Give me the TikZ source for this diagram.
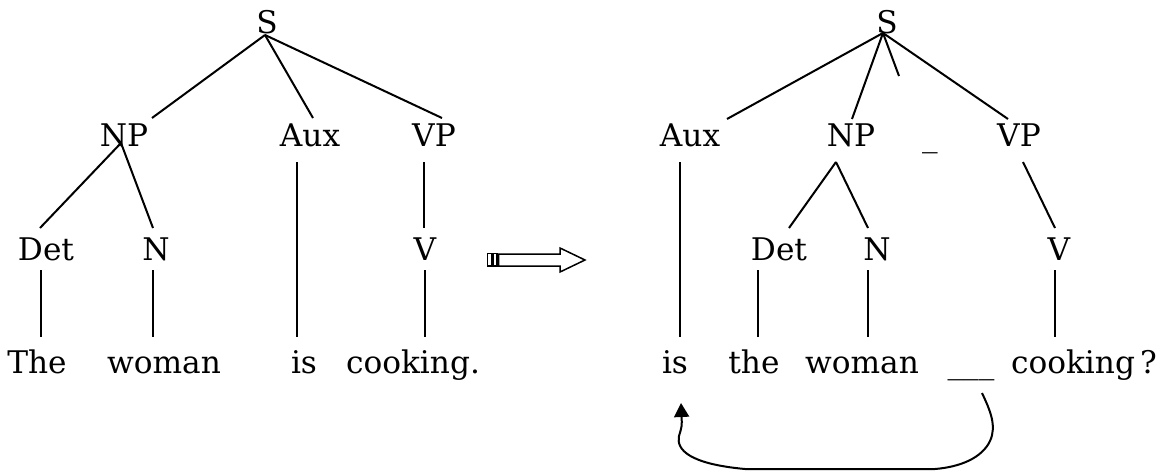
\documentclass[tikz,border=0pt]{standalone}
\usepackage{fontspec}
\setmainfont{DejaVu Serif}
\usetikzlibrary{calc,arrows.meta}
\tikzset{
  lbl/.style={anchor=base,inner sep=0pt,font=\fontsize{15.6}{18}\selectfont},
  edge/.style={line width=1pt},
  hollow/.style={line width=0.75pt,draw=black,fill=white,line join=miter}
}
\begin{document}
\begin{tikzpicture}[x=0.5pt,y=-0.5pt]
\useasboundingbox (0,0) rectangle (1175,471);
% ---------- left tree ----------
\node[lbl] (S1) at (267,33) {S};
\node[lbl] (NP1) at (124,147) {NP};
\node[lbl] (Aux1) at (310,147) {Aux};
\node[lbl] (VP1) at (434,147) {VP};
\node[lbl] (Det1) at (46,260) {Det};
\node[lbl] (N1) at (156,260) {N};
\node[lbl] (V1) at (425,260) {V};
\node[lbl] (The) at (37,373) {The};
\node[lbl] (woman1) at (164,373) {woman};
\node[lbl] (is1) at (304,373) {is};
\node[lbl] (cooking1) at (413,373) {cooking.};
\draw[edge] ($(S1.base)+(-2,2)$) -- ($(NP1.base)+(28,-29)$);
\draw[edge] ($(S1.base)+(-2,2)$) -- ($(Aux1.base)+(3,-29)$);
\draw[edge] ($(S1.base)+(-2,2)$) -- ($(VP1.base)+(8,-29)$);
\draw[edge] ($(NP1.base)+(-3,-4)$) -- ($(Det1.base)+(-6,-32)$);
\draw[edge] ($(NP1.base)+(-3,-4)$) -- ($(N1.base)+(-3,-32)$);
\draw[edge] ($(Aux1.base)+(-13,15)$) -- ($(is1.base)+(-7,-36)$);
\draw[edge] ($(VP1.base)+(-10,15)$) -- ($(V1.base)+(-1,-32)$);
\draw[edge] ($(Det1.base)+(-5,10)$) -- ($(The.base)+(4,-36)$);
\draw[edge] ($(N1.base)+(-3,10)$) -- ($(woman1.base)+(-11,-36)$);
\draw[edge] ($(V1.base)+(0,10)$) -- ($(cooking1.base)+(12,-36)$);
% ---------- middle arrow ----------
\draw[hollow] (487.5,253.5) rectangle (491.5,266);
\draw[hollow] (493,253.5) rectangle (497,266);
\draw[hollow] (498.5,254) -- (560,254) -- (560,248) -- (585,260) -- (560,272) -- (560,266) -- (498.5,266) -- cycle;
% ---------- right tree ----------
\node[lbl] (S2) at (887,33) {S};
\node[lbl] (Aux2) at (690,147) {Aux};
\node[lbl] (NP2) at (851,147) {NP};
\node[lbl] (trace) at (930,147) {\_};
\node[lbl] (VP2) at (1019,147) {VP};
\node[lbl] (Det2) at (779,260) {Det};
\node[lbl] (N2) at (877,260) {N};
\node[lbl] (V2) at (1059,260) {V};
\node[lbl] (is2) at (675,373) {is};
\node[lbl] (the2) at (754,373) {the};
\node[lbl] (woman2) at (862,373) {woman};
\node[lbl] (blank) at (971,373) {\_\_\_};
\node[lbl] (cooking2) at (1084,373) {cooking\,?};
\coordinate (stub) at (899,76);
\draw[edge] ($(S2.base)+(-4,0)$) -- ($(Aux2.base)+(37,-28)$);
\draw[edge] ($(S2.base)+(-4,0)$) -- ($(NP2.base)+(1,-28)$);
\draw[edge] ($(S2.base)+(-4,0)$) -- (stub);
\draw[edge] ($(S2.base)+(-4,0)$) -- ($(VP2.base)+(-11,-28)$);
\draw[edge] ($(Aux2.base)+(-10,15)$) -- ($(is2.base)+(5,-36)$);
\draw[edge] ($(NP2.base)+(-15,15)$) -- ($(Det2.base)+(10,-32)$);
\draw[edge] ($(NP2.base)+(-15,15)$) -- ($(N2.base)+(-9,-32)$);
\draw[edge] ($(VP2.base)+(4,15)$) -- ($(V2.base)+(-4,-32)$);
\draw[edge] ($(Det2.base)+(-21,10)$) -- ($(the2.base)+(4,-36)$);
\draw[edge] ($(N2.base)+(-9,10)$) -- ($(woman2.base)+(6,-36)$);
\draw[edge] ($(V2.base)+(-4,10)$) -- ($(cooking2.base)+(-29,-36)$);
% ---------- movement arrow ----------
\draw[edge,-{Triangle[length=7pt,width=7.5pt]}]
  ($(blank.base)+(11,20)$) .. controls (990,410) and (997,426) .. (990,441)
  .. controls (982,458) and (960,467) .. (935,469) -- (745,469)
  .. controls (690,464) and (676,450) .. (679,436)
  .. controls (682,426) .. ($(is2.base)+(6,30)$);
\end{tikzpicture}
\end{document}
